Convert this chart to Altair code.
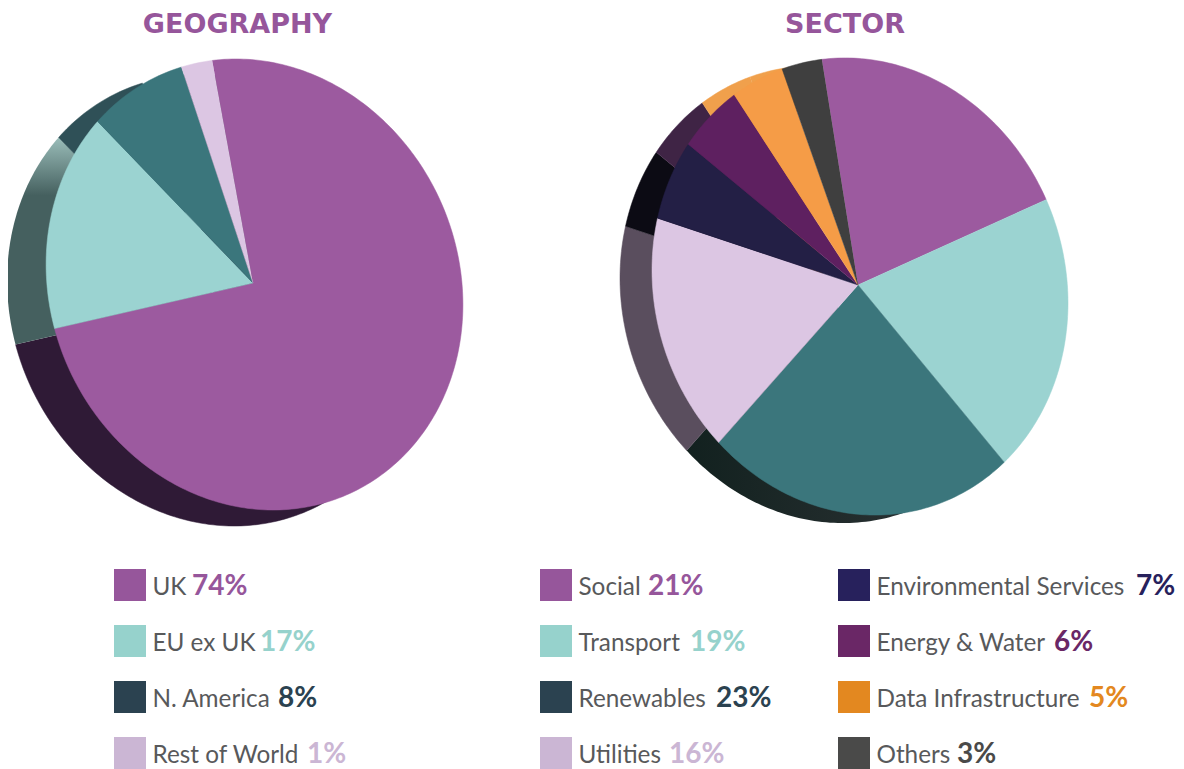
import altair as alt
import numpy as np
import pandas as pd

# ---- values ----
geo_names = ["UK", "EU ex UK", "N. America", "Rest of World"]
geo_pct = ["74%", "17%", "8%", "1%"]
geo_share = [74.3, 16.4, 7.1, 2.2]          # share of the circle as drawn
geo_face = ["#9C5A9F", "#9BD3D1", "#3B767C", "#DCC6E3"]
geo_key = ["#96569B", "#96D2CC", "#2B4250", "#CBB6D4"]

sec_names = ["Social", "Transport", "Renewables", "Utilities",
             "Environmental Services", "Energy & Water", "Data Infrastructure", "Others"]
sec_pct = ["21%", "19%", "23%", "16%", "7%", "6%", "5%", "3%"]
sec_share = [20.75, 20.8, 22.5, 18.6, 5.9, 4.8, 3.8, 2.85]
sec_face = ["#9C5A9F", "#9BD3D1", "#3B767C", "#DCC6E3", "#231F45", "#5E2060", "#F59C47", "#3F3F3F"]
sec_key = ["#96569B", "#96D2CC", "#2B4250", "#CBB6D4", "#27215C", "#6A2766", "#E38820", "#4A4A49"]


def grad(c0, c1, mid=1.0, horizontal=False):
    return alt.LinearGradient(
        gradient="linear",
        stops=[alt.GradientStop(offset=0, color=c0),
               alt.GradientStop(offset=mid, color=c1),
               alt.GradientStop(offset=1, color=c1)],
        x1=0, y1=0, x2=1 if horizontal else 0, y2=0 if horizontal else 1,
    )


# side wall of each pie; None = slice whose wall is hidden behind the face
geo_side = ["#2F1A36", grad("#9ABDB9", "#45605F", 0.28), "#2F5057", None]
sec_side = [None, None, grad("#12211F", "#2E3436", horizontal=True), "#5A4E5E",
            "#0C0B14", "#3F2445", "#F0A04C", "#F0A04C"]

W, H = 1168, 761
M = 8  # page margin


def wedge(cx, cy, start, share, ell):
    a, b, c, f, e = ell
    t = np.radians(np.linspace(start, start + share * 3.6, max(3, int(share * 3.6) + 2)))
    s, co = np.sin(t), np.cos(t)
    p = a * s ** 2 + b * s * co + c * co ** 2
    q = -(2 * a * s * f + b * (s * e + co * f) + 2 * c * co * e)
    w = a * f ** 2 + b * f * e + c * e ** 2 - 1
    r = (-q + np.sqrt(q ** 2 - 4 * p * w)) / (2 * p)
    xs = np.r_[cx, cx + r * s] - M
    ys = np.r_[cy, cy - r * co] - M
    return pd.DataFrame({"x": xs, "y": ys, "i": range(len(xs))})


SX = alt.Scale(domain=[0, W], range=[0, W])
SY = alt.Scale(domain=[0, H], range=[0, H])
X = alt.X("x:Q", axis=None, scale=SX)
Y = alt.Y("y:Q", axis=None, scale=SY)


def pie(cx, cy, start, shares, colors, ell):
    out = []
    a = start
    for s, col in zip(shares, colors):
        if col is not None:
            if isinstance(col, str):
                mark = alt.MarkDef(type="line", fill=col, stroke=col, strokeWidth=0.5)
            else:
                mark = alt.MarkDef(type="line", fill=col, strokeWidth=0)
            out.append(
                alt.Chart(wedge(cx, cy, a, s, ell), mark=mark)
                .encode(x=X, y=Y, order=alt.Order("i:Q"))
            )
        a += s * 3.6
    return out


ell_geo = (2.321e-5, 3.83e-6, 1.982e-5, 1.5, -1.5)
ell_sec = (2.3235e-5, 3.05e-6, 1.924e-5, 2.0, -1.5)

layers = []
layers += pie(253 - 39, 283 + 16, -10.4, geo_share, geo_side, ell_geo)
layers += pie(253, 283, -10.4, geo_share, geo_face, ell_geo)
layers += pie(858 - 32, 285 + 8, -9.1, sec_share, sec_side, ell_sec)
layers += pie(858, 285, -9.1, sec_share, sec_face, ell_sec)

# titles
titles = pd.DataFrame({"t": ["GEOGRAPHY", "SECTOR"], "x": [237.5 - M, 845 - M], "y": [33 - M, 33 - M]})
layers.append(
    alt.Chart(titles)
    .mark_text(font="DejaVu Sans", fontWeight="bold", fontSize=27, color="#96569B", align="center", baseline="alphabetic")
    .encode(x=X, y=Y, text="t:N")
)

# legend
row_y = [585, 641, 697, 753]
rows = []
geo_pct_x = [192, 260, 278, 307]
sec_pct_x = [648, 690, 716, 669, 1136, 1054, 1089, 957]
for i in range(4):
    rows.append((geo_names[i], geo_pct[i], geo_key[i], 130, row_y[i], geo_pct_x[i]))
for i in range(4):
    rows.append((sec_names[i], sec_pct[i], sec_key[i], 556, row_y[i], sec_pct_x[i]))
for i in range(4, 8):
    rows.append((sec_names[i], sec_pct[i], sec_key[i], 854, row_y[i - 4], sec_pct_x[i]))
leg = pd.DataFrame(rows, columns=["name", "pct", "col", "sx", "ry", "px"])
leg["x"] = leg.sx - M
leg["y"] = leg.ry - M
leg["lx"] = leg.sx + 22.5 - M
leg["vx"] = leg.px - M
leg["by"] = leg.ry + 10 - M

color = alt.Color("col:N", scale=None, legend=None)
layers.append(alt.Chart(leg).mark_square(size=1024, opacity=1).encode(x=X, y=Y, color=color))
layers.append(
    alt.Chart(leg)
    .mark_text(font="Lato", fontSize=24.3, color="#58595B", align="left", baseline="alphabetic")
    .encode(x=alt.X("lx:Q", axis=None, scale=SX), y=alt.Y("by:Q", axis=None, scale=SY), text="name:N")
)
layers.append(
    alt.Chart(leg)
    .mark_text(font="Lato", fontWeight="bold", fontSize=28, align="left", baseline="alphabetic")
    .encode(x=alt.X("vx:Q", axis=None, scale=SX), y=alt.Y("by:Q", axis=None, scale=SY), text="pct:N", color=color)
)

chart = (
    alt.layer(*layers)
    .properties(width=W, height=H, padding=0, background="white",
                autosize=alt.AutoSizeParams(type="none"))
    .configure_view(stroke=None)
)
chart.save("out.html", embed_options={"renderer": "svg", "actions": False})
